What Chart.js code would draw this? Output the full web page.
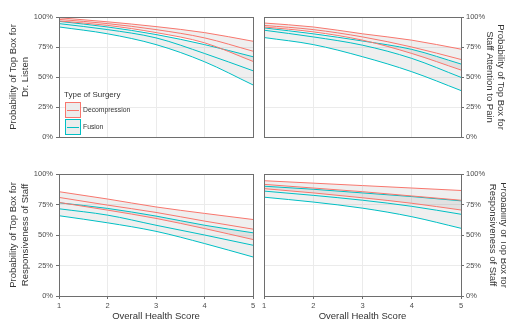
<!DOCTYPE html>
<html lang="en">
<head>
<meta charset="UTF-8">
<title>Top Box probability by health score</title>
<style>
  html, body { margin: 0; padding: 0; background: #fff; }
  body { width: 506px; height: 323px; position: relative; overflow: hidden; font-family: "Liberation Sans", Arial, sans-serif; }
  canvas.panel { position: absolute; left: 0; top: 0; width: 520px; height: 323px; }
  #legend { position: absolute; left: 64px; top: 89px; width: 80px; height: 50px; color: #333; }
  .lg-title { position: absolute; left: 0; top: 0; font-size: 8px; line-height: 12px; white-space: nowrap; }
  .lg-item { position: absolute; left: 0; height: 16px; width: 80px; }
  .lg-key { position: absolute; left: 1px; top: 0; width: 14px; height: 14px; border: 1px solid; background: #ececec; }
  .lg-key i { position: absolute; left: 1px; right: 1px; top: 7px; height: 1px; }
  .lg-label { position: absolute; left: 19px; top: 0; font-size: 6.8px; line-height: 16px; white-space: nowrap; }
</style>
</head>
<body>
<canvas id="pListen" class="panel" width="520" height="323"></canvas>
<canvas id="pPain" class="panel" width="520" height="323"></canvas>
<canvas id="pResp1" class="panel" width="520" height="323"></canvas>
<canvas id="pResp2" class="panel" width="520" height="323"></canvas>
<div id="legend"></div>

<script src="https://cdn.jsdelivr.net/npm/chart.js"></script>
<script>
  // x values and axis ticks
  const healthScore = [1, 2, 3, 4, 5];
  const yTicks = [0, 25, 50, 75, 100];
  const surgeryTypes = ['Decompression', 'Fusion'];

  // Dr. Listen (top left)  -- percent
  const listenDecompLow  = [96.7, 93.0, 87.0, 78.5, 63.0];
  const listenDecompFit  = [98.0, 94.5, 89.5, 82.6, 71.5];
  const listenDecompHigh = [99.4, 96.0, 92.0, 87.0, 79.8];
  const listenFusionLow  = [91.7, 86.0, 77.0, 62.7, 43.4];
  const listenFusionFit  = [94.5, 89.5, 82.6, 69.6, 55.2];
  const listenFusionHigh = [96.4, 91.7, 85.4, 77.0, 66.9];

  // Staff Attention to Pain (top right)
  const painDecompLow  = [91.7, 87.6, 80.7, 69.6, 55.8];
  const painDecompFit  = [93.0, 89.5, 83.4, 75.0, 64.6];
  const painDecompHigh = [95.0, 91.7, 86.0, 80.7, 73.2];
  const painFusionLow  = [82.9, 77.0, 66.9, 54.4, 38.7];
  const painFusionFit  = [89.0, 83.4, 76.5, 65.5, 49.7];
  const painFusionHigh = [90.9, 86.0, 80.0, 73.0, 60.8];

  // Responsiveness of Staff (bottom left)
  const resp1DecompLow  = [76.7, 70.4, 63.6, 55.3, 46.3];
  const resp1DecompFit  = [80.8, 74.5, 68.5, 61.4, 54.8];
  const resp1DecompHigh = [85.5, 79.5, 73.0, 67.7, 62.7];
  const resp1FusionLow  = [65.8, 60.0, 53.0, 43.0, 32.0];
  const resp1FusionFit  = [71.5, 66.3, 58.0, 50.0, 41.6];
  const resp1FusionHigh = [76.4, 71.8, 65.5, 58.0, 51.8];

  // Responsiveness of Staff (bottom right)
  const resp2DecompLow  = [88.0, 84.5, 80.5, 76.0, 70.5];
  const resp2DecompFit  = [91.5, 88.5, 85.5, 82.0, 78.5];
  const resp2DecompHigh = [94.5, 92.5, 90.5, 88.5, 86.5];
  const resp2FusionLow  = [81.0, 77.0, 72.0, 65.0, 55.5];
  const resp2FusionFit  = [86.0, 82.5, 78.5, 73.5, 67.0];
  const resp2FusionHigh = [90.0, 87.5, 84.5, 81.5, 78.0];

  const colors = { Decompression: '#F8766D', Fusion: '#00BFC4' };
  const bandFill = 'rgba(153,153,153,0.16)';
  const W = 520, H = 323;

  function bandSets(name, low, fit, high) {
    const c = colors[name];
    const pts = arr => arr.map((v, i) => ({ x: healthScore[i], y: v }));
    const common = { borderColor: c, borderWidth: 1, pointRadius: 0, cubicInterpolationMode: 'monotone' };
    return [
      Object.assign({ label: name + ' low', data: pts(low), fill: false }, common),
      Object.assign({ label: name + ' high', data: pts(high), fill: '-1', backgroundColor: bandFill }, common),
      Object.assign({ label: name, data: pts(fit), fill: false }, common)
    ];
  }

  // panel frame on top of everything
  const panelBorder = {
    id: 'panelBorder',
    afterDraw(chart) {
      const a = chart.chartArea;
      const ctx = chart.ctx;
      ctx.save();
      ctx.strokeStyle = '#6e6e6e';
      ctx.lineWidth = 1;
      ctx.strokeRect(a.left + 0.5, a.top + 0.5, a.right - a.left, a.bottom - a.top);
      ctx.restore();
    }
  };

  function makePanel(id, area, side, titleLines, bottomRow, datasets) {
    const yWidth = side === 'left' ? area.left : W - area.right - area.pad;
    const xHeight = bottomRow ? H - area.bottom : 0;
    new Chart(document.getElementById(id), {
      type: 'line',
      data: { datasets: datasets },
      options: {
        responsive: false,
        animation: false,
        events: [],
        layout: {
          padding: {
            left: side === 'left' ? 0 : area.left,
            right: side === 'left' ? W - area.right : area.pad,
            top: area.top,
            bottom: H - area.bottom - xHeight
          }
        },
        plugins: {
          legend: { display: false },
          tooltip: { enabled: false },
          filler: { drawTime: 'beforeDatasetsDraw' }
        },
        scales: {
          x: {
            type: 'linear',
            min: 1,
            max: 5,
            afterFit: s => { s.height = xHeight; },
            ticks: { display: bottomRow, stepSize: 1, padding: 2, color: '#4d4d4d', font: { size: 7.5 } },
            grid: { color: '#ebebeb', drawTicks: bottomRow, tickLength: 3, tickColor: '#6e6e6e' },
            border: { display: false },
            title: { display: bottomRow, text: 'Overall Health Score', color: '#333', font: { size: 9.5 }, padding: { top: 0, bottom: 1 } }
          },
          y: {
            position: side,
            min: 0,
            max: 100,
            afterFit: s => { s.width = yWidth; },
            afterBuildTicks: s => { s.ticks = yTicks.map(v => ({ value: v })); },
            ticks: { callback: v => v + '%', padding: side === 'left' ? 3 : 2, color: '#4d4d4d', font: { size: 7.5 } },
            grid: { color: '#ebebeb', tickLength: 3, tickColor: '#6e6e6e' },
            border: { display: false },
            title: { display: true, text: titleLines, color: '#333', font: { size: 9.5 }, padding: { top: side === 'left' ? 7.8 : 0, bottom: 0 } }
          }
        }
      },
      plugins: [panelBorder]
    });
  }

  makePanel('pListen', { left: 59, right: 253, top: 17, bottom: 137 }, 'left',
    ['Probability of Top Box for', 'Dr. Listen'], false,
    bandSets('Decompression', listenDecompLow, listenDecompFit, listenDecompHigh)
      .concat(bandSets('Fusion', listenFusionLow, listenFusionFit, listenFusionHigh)));

  makePanel('pPain', { left: 264, right: 461, top: 17, bottom: 137, pad: 13.3 }, 'right',
    ['Probability of Top Box for', 'Staff Attention to Pain'], false,
    bandSets('Decompression', painDecompLow, painDecompFit, painDecompHigh)
      .concat(bandSets('Fusion', painFusionLow, painFusionFit, painFusionHigh)));

  makePanel('pResp1', { left: 59, right: 253, top: 174, bottom: 296 }, 'left',
    ['Probability of Top Box for', 'Responsiveness of Staff'], true,
    bandSets('Decompression', resp1DecompLow, resp1DecompFit, resp1DecompHigh)
      .concat(bandSets('Fusion', resp1FusionLow, resp1FusionFit, resp1FusionHigh)));

  makePanel('pResp2', { left: 264, right: 461, top: 174, bottom: 296, pad: 10.3 }, 'right',
    ['Probability of Top Box for', 'Responsiveness of Staff'], true,
    bandSets('Decompression', resp2DecompLow, resp2DecompFit, resp2DecompHigh)
      .concat(bandSets('Fusion', resp2FusionLow, resp2FusionFit, resp2FusionHigh)));

  // legend inside the top-left panel
  let html = '<div class="lg-title">Type of Surgery</div>';
  surgeryTypes.forEach((name, i) => {
    html += '<div class="lg-item" style="top:' + (13 + i * 17) + 'px">' +
      '<span class="lg-key" style="border-color:' + colors[name] + '"><i style="background:' + colors[name] + '"></i></span>' +
      '<span class="lg-label">' + name + '</span></div>';
  });
  document.getElementById('legend').innerHTML = html;
</script>
</body>
</html>
